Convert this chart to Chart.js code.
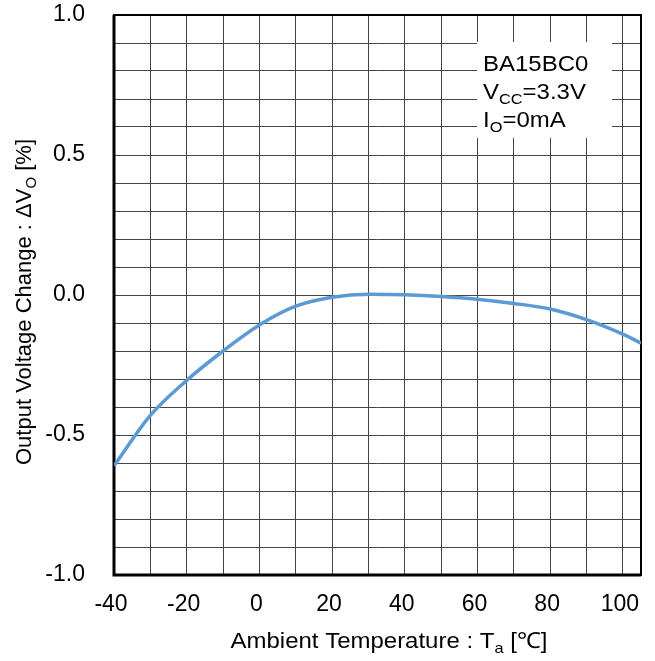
<!DOCTYPE html>
<html>
<head>
<meta charset="utf-8">
<script src="https://cdn.jsdelivr.net/npm/chart.js@4.4.1/dist/chart.umd.min.js"></script>
<style>
  html, body { margin: 0; padding: 0; background: #fff; }
  #wrap { width: 655px; height: 661px; }
</style>
</head>
<body>
<div id="wrap"><canvas id="tempChart" width="655" height="661"></canvas></div>
<script>
// Data
const temps = [-40, -30, -20, -10, 0, 10, 20, 30, 40, 50, 60, 70, 80, 90, 100, 105];
const deltaVo = [-0.61, -0.43, -0.305, -0.2, -0.107, -0.04, -0.008, 0.003, 0.001, -0.005, -0.015, -0.03, -0.05, -0.088, -0.14, -0.172];

// Tick labels
const xTickLabels = [-40, -20, 0, 20, 40, 60, 80, 100];
const yTickLabels = [-1.0, -0.5, 0.0, 0.5, 1.0];

const FONT = '"Liberation Sans", Arial, sans-serif';

// Draws text made of normal and subscript parts (sx = horizontal stretch)
function drawRich(ctx, parts, x, y, align, sx) {
    const size = 22, subSize = 15;
    sx = sx || 1;
    let total = 0;
    parts.forEach(p => {
        ctx.font = (p.sub ? subSize : size) + 'px ' + FONT;
        p.w = ctx.measureText(p.text).width;
        total += p.w;
    });
    const x0 = align === 'center' ? x - total * sx / 2 : x;
    ctx.save();
    ctx.translate(x0, y);
    ctx.scale(sx, 1);
    ctx.textAlign = 'left';
    ctx.textBaseline = 'alphabetic';
    let cx = 0;
    parts.forEach(p => {
        ctx.font = (p.sub ? subSize : size) + 'px ' + FONT;
        ctx.fillText(p.text, cx, p.sub ? 5 : 0);
        cx += p.w;
    });
    ctx.restore();
}

const framePlugin = {
    id: 'frame',
    beforeDatasetsDraw(chart) {
        const { ctx, chartArea: a } = chart;
        ctx.save();
        ctx.strokeStyle = '#000';
        ctx.lineWidth = 2;
        ctx.strokeRect(a.left, a.top, a.right - a.left, a.bottom - a.top);
        ctx.lineWidth = 3;
        ctx.beginPath();
        ctx.moveTo(a.left, a.top);
        ctx.lineTo(a.left, a.bottom);
        ctx.lineTo(a.right, a.bottom);
        ctx.stroke();
        ctx.restore();
    },
    afterDraw(chart) {
        const ctx = chart.ctx;
        ctx.save();
        ctx.fillStyle = '#000';

        // x axis title
        drawRich(ctx, [
            { text: 'Ambient Temperature : T' },
            { text: 'a', sub: true },
            { text: ' [℃]' }
        ], 389, 648, 'center', 1.09);

        // y axis title
        ctx.save();
        ctx.translate(31, 302);
        ctx.rotate(-Math.PI / 2);
        drawRich(ctx, [
            { text: 'Output Voltage Change : ΔV' },
            { text: 'O', sub: true },
            { text: ' [%]' }
        ], 0, 0, 'center');
        ctx.restore();

        // condition box
        ctx.fillStyle = '#fff';
        ctx.fillRect(477, 42, 135, 96);
        ctx.fillStyle = '#000';
        drawRich(ctx, [{ text: 'BA15BC0' }], 483, 71, 'left', 1.09);
        drawRich(ctx, [{ text: 'V' }, { text: 'CC', sub: true }, { text: '=3.3V' }], 483, 99, 'left', 1.09);
        drawRich(ctx, [{ text: 'I' }, { text: 'O', sub: true }, { text: '=0mA' }], 483, 127, 'left', 1.09);
        ctx.restore();
    }
};

const ctx = document.getElementById('tempChart');

new Chart(ctx, {
    type: 'line',
    data: {
        datasets: [{
            data: temps.map((t, i) => ({ x: t, y: deltaVo[i] })),
            borderColor: '#5B9BD5',
            borderWidth: 3.5,
            pointRadius: 0,
            cubicInterpolationMode: 'monotone',
            fill: false
        }]
    },
    options: {
        responsive: false,
        animation: false,
        layout: { padding: { top: 15, right: 14, left: 0, bottom: 0 } },
        plugins: {
            legend: { display: false },
            tooltip: { enabled: false }
        },
        scales: {
            x: {
                type: 'linear',
                min: -40,
                max: 105,
                afterFit: scale => {
                    scale.height = 86;
                    scale.paddingLeft = 0;
                    scale.paddingRight = 0;
                },
                grid: { color: '#454545', lineWidth: 1, drawTicks: false },
                border: { display: false },
                ticks: {
                    stepSize: 10,
                    includeBounds: false,
                    autoSkip: false,
                    maxRotation: 0,
                    padding: 16,
                    labelOffset: -3,
                    color: '#000',
                    font: { family: FONT, size: 23 },
                    callback: value => xTickLabels.includes(value) ? String(value) : ''
                }
            },
            y: {
                min: -1,
                max: 1,
                afterFit: scale => {
                    scale.width = 114;
                    scale.paddingTop = 0;
                    scale.paddingBottom = 0;
                },
                grid: { color: '#454545', lineWidth: 1, drawTicks: false },
                border: { display: false },
                ticks: {
                    stepSize: 0.1,
                    autoSkip: false,
                    padding: 29,
                    color: '#000',
                    font: { family: FONT, size: 23 },
                    callback: value => {
                        const hit = yTickLabels.find(v => Math.abs(v - value) < 1e-6);
                        return hit === undefined ? '' : hit.toFixed(1);
                    }
                }
            }
        }
    },
    plugins: [framePlugin]
});
</script>
</body>
</html>
